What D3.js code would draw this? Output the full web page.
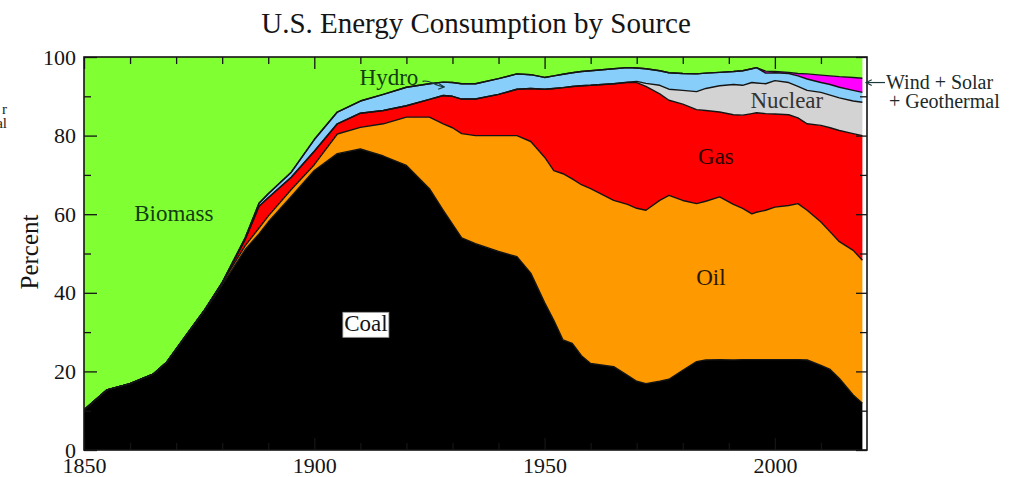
<!DOCTYPE html>
<html>
<head>
<meta charset="utf-8">
<script src="https://cdn.jsdelivr.net/npm/d3@7"></script>
<style>
  html, body { margin: 0; padding: 0; background: #fff; }
  svg { display: block; }
  text { font-family: "Liberation Serif", "Times New Roman", serif; }
</style>
</head>
<body>
<svg id="chart" width="1019" height="477"></svg>
<script>
// shares of total consumption, percent
const years     = [1850, 1855, 1860, 1865, 1868, 1872, 1876, 1880, 1885, 1888, 1890, 1895, 1900, 1905, 1910, 1915, 1920, 1925, 1928, 1930, 1932, 1935, 1940, 1944, 1947, 1950, 1952, 1954, 1956, 1958, 1960, 1965, 1968, 1970, 1972, 1975, 1977, 1980, 1983, 1985, 1988, 1991, 1993, 1995, 1996, 1998, 2000, 2003, 2005, 2007, 2010, 2012, 2014, 2017, 2019];
const coal      = [10.2, 15.3, 16.9, 19.3, 22.4, 28.8, 35.0, 42.0, 51.0, 55.0, 58.0, 64.5, 71.1, 75.4, 76.6, 74.8, 72.4, 66.5, 61.0, 57.5, 54.0, 52.5, 50.5, 49.2, 45.0, 37.5, 33.0, 28.0, 27.1, 24.0, 22.0, 21.2, 19.0, 17.5, 16.9, 17.5, 18.0, 20.3, 22.5, 22.9, 23.0, 22.9, 23.0, 23.0, 23.0, 23.0, 23.0, 23.0, 23.0, 22.9, 21.5, 20.5, 18.2, 14.0, 11.9];
const oil       = [0, 0, 0, 0, 0, 0.1, 0.3, 0.5, 1.0, 1.5, 1.5, 1.8, 1.5, 5.0, 5.5, 8.2, 12.3, 18.2, 22.0, 24.5, 26.5, 27.5, 29.5, 30.8, 33.5, 37.0, 38.1, 42.3, 41.9, 43.5, 44.5, 42.3, 43.5, 44.0, 44.1, 46.0, 46.8, 43.2, 40.2, 40.4, 41.4, 39.6, 38.5, 37.1, 37.5, 38.0, 38.8, 39.2, 39.7, 38.1, 36.5, 35.0, 34.8, 36.8, 36.4];
const gas       = [0, 0, 0, 0, 0, 0, 0, 0, 1.6, 5.5, 4.7, 3.1, 3.4, 2.6, 3.6, 3.4, 2.9, 4.5, 7.2, 8.0, 8.8, 9.3, 10.5, 11.8, 13.5, 17.3, 20.9, 21.9, 23.5, 25.2, 26.3, 29.7, 31.0, 32.0, 31.5, 27.1, 24.2, 24.5, 23.9, 23.1, 21.6, 22.8, 23.7, 25.5, 25.3, 24.6, 23.7, 23.1, 21.8, 22.0, 24.6, 26.5, 28.3, 29.7, 31.7];
const nuclear   = [0, 0, 0, 0, 0, 0, 0, 0, 0, 0, 0, 0, 0, 0, 0, 0, 0, 0, 0, 0, 0, 0, 0, 0, 0, 0, 0, 0, 0, 0, 0, 0, 0.1, 0.3, 0.8, 2.2, 2.8, 3.5, 4.6, 5.6, 6.7, 7.7, 7.6, 7.9, 7.6, 7.6, 8.5, 8.2, 8.0, 8.5, 8.4, 8.3, 8.3, 8.3, 8.5];
const hydro     = [0, 0, 0, 0, 0, 0, 0, 0.1, 0.4, 0.8, 1.0, 1.3, 3.0, 3.0, 3.1, 4.1, 4.7, 4.0, 3.4, 3.5, 3.9, 3.9, 4.0, 3.9, 3.5, 3.0, 3.2, 3.4, 3.5, 3.6, 3.7, 3.8, 3.7, 3.4, 3.7, 3.7, 4.2, 4.3, 4.5, 3.9, 3.4, 3.3, 3.7, 3.5, 3.9, 2.7, 2.0, 2.3, 2.7, 2.9, 2.5, 2.7, 2.7, 2.7, 2.5];
const windSolar = [0, 0, 0, 0, 0, 0, 0, 0, 0, 0, 0, 0, 0, 0, 0, 0, 0, 0, 0, 0, 0, 0, 0, 0, 0, 0, 0, 0, 0, 0, 0, 0, 0, 0, 0, 0, 0, 0, 0, 0, 0, 0, 0, 0, 0, 0.5, 0.3, 0.3, 0.6, 1.3, 1.9, 2.2, 2.7, 3.3, 3.6];
const biomass   = [89.8, 84.7, 83.1, 80.7, 77.6, 71.1, 64.7, 57.4, 46.0, 37.2, 34.8, 29.3, 21.0, 14.0, 11.2, 9.5, 7.7, 6.8, 6.4, 6.5, 6.8, 6.8, 5.5, 4.3, 4.5, 5.2, 4.8, 4.4, 4.0, 3.7, 3.5, 3.0, 2.7, 2.8, 3.0, 3.5, 4.0, 4.2, 4.3, 4.1, 3.9, 3.7, 3.5, 3.0, 2.7, 3.6, 3.7, 3.9, 4.2, 4.3, 4.6, 4.8, 5.0, 5.2, 5.4];

const keys = ["coal", "oil", "gas", "nuclear", "hydro", "windSolar", "biomass"];
const colors = {
  coal: "#000000",
  oil: "#ff9900",
  gas: "#ff0000",
  nuclear: "#d3d3d3",
  hydro: "#87cefa",
  windSolar: "#ff00ff",
  biomass: "#80ff33"
};
const yMajor = [0, 20, 40, 60, 80, 100];
const yMinor = [10, 30, 50, 70, 90];
const xMajor = [1850, 1900, 1950, 2000];
const xMinor = [1860, 1870, 1880, 1890, 1910, 1920, 1930, 1940, 1960, 1970, 1980, 1990, 2010];

const serif = "Liberation Serif, Times New Roman, serif";
const svg = d3.select("#chart");

const x = d3.scaleLinear().domain([1850, 2020]).range([84, 867]);
const y = d3.scaleLinear().domain([0, 100]).range([450, 57]);

const table = years.map((yr, i) => ({
  year: yr,
  coal: coal[i],
  oil: oil[i],
  gas: gas[i],
  nuclear: nuclear[i],
  hydro: hydro[i],
  windSolar: windSolar[i],
  biomass: biomass[i]
}));

const layers = d3.stack().keys(keys)(table);

const area = d3.area()
  .x(d => x(d.data.year))
  .y0(d => y(d[0]))
  .y1(d => y(d[1]));

const edge = d3.line()
  .x(d => x(d.data.year))
  .y(d => y(d[1]));

svg.append("defs").append("clipPath")
  .attr("id", "plotClip")
  .append("rect")
  .attr("x", x(1850)).attr("y", y(100))
  .attr("width", x(2020) - x(1850)).attr("height", y(0) - y(100));

const plot = svg.append("g").attr("clip-path", "url(#plotClip)");

plot.selectAll("path.layer")
  .data(layers)
  .join("path")
  .attr("class", "layer")
  .attr("fill", d => colors[d.key])
  .attr("d", area);

plot.selectAll("path.edge")
  .data(layers.filter(l => l.key !== "biomass"))
  .join("path")
  .attr("class", "edge")
  .attr("fill", "none")
  .attr("stroke", "#141414")
  .attr("stroke-width", 1.4)
  .attr("stroke-linejoin", "round")
  .attr("d", edge);

// axes: ticks all point inwards
function styleAxis(g) {
  g.select(".domain").remove();
  g.attr("font-family", serif).attr("font-size", 22).attr("color", "#141414");
  g.selectAll("line").attr("stroke-width", 1.3);
}

svg.append("g")
  .attr("transform", `translate(${x(1850)},0)`)
  .call(d3.axisLeft(y).tickValues(yMajor).tickSizeInner(-13).tickSizeOuter(0).tickPadding(8))
  .call(styleAxis);
svg.append("g")
  .attr("transform", `translate(${x(1850)},0)`)
  .call(d3.axisLeft(y).tickValues(yMinor).tickSizeInner(-7).tickSizeOuter(0).tickFormat(""))
  .call(styleAxis);

svg.append("g")
  .attr("transform", `translate(${x(2020)},0)`)
  .call(d3.axisRight(y).tickValues(yMajor).tickSizeInner(-11).tickSizeOuter(0).tickFormat(""))
  .call(styleAxis);
svg.append("g")
  .attr("transform", `translate(${x(2020)},0)`)
  .call(d3.axisRight(y).tickValues(yMinor).tickSizeInner(-7).tickSizeOuter(0).tickFormat(""))
  .call(styleAxis);

svg.append("g")
  .attr("transform", `translate(0,${y(0)})`)
  .call(d3.axisBottom(x).tickValues(xMajor).tickSizeInner(-12).tickSizeOuter(0).tickPadding(7).tickFormat(d3.format("d")))
  .call(styleAxis);
svg.append("g")
  .attr("transform", `translate(0,${y(0)})`)
  .call(d3.axisBottom(x).tickValues(xMinor).tickSizeInner(-7).tickSizeOuter(0).tickFormat(""))
  .call(styleAxis);

svg.append("g")
  .attr("transform", `translate(0,${y(100)})`)
  .call(d3.axisTop(x).tickValues(xMajor).tickSizeInner(-12).tickSizeOuter(0).tickFormat(""))
  .call(styleAxis);
svg.append("g")
  .attr("transform", `translate(0,${y(100)})`)
  .call(d3.axisTop(x).tickValues(xMinor).tickSizeInner(-7).tickSizeOuter(0).tickFormat(""))
  .call(styleAxis);

// frame
svg.append("rect")
  .attr("x", x(1850)).attr("y", y(100))
  .attr("width", x(2020) - x(1850)).attr("height", y(0) - y(100))
  .attr("fill", "none")
  .attr("stroke", "#141414")
  .attr("stroke-width", 1.6);

// title + axis title
svg.append("text")
  .attr("x", 476).attr("y", 33)
  .attr("text-anchor", "middle")
  .attr("font-size", 29)
  .attr("fill", "#141414")
  .text("U.S. Energy Consumption by Source");

svg.append("text")
  .attr("transform", "translate(38,252) rotate(-90)")
  .attr("text-anchor", "middle")
  .attr("font-size", 25)
  .attr("fill", "#141414")
  .text("Percent");

// leftovers of the neighbouring figure, cut at the edge
svg.append("text").attr("x", 7).attr("y", 114).attr("text-anchor", "end")
  .attr("font-size", 15).attr("fill", "#222").text("r");
svg.append("text").attr("x", 7).attr("y", 128).attr("text-anchor", "end")
  .attr("font-size", 15).attr("fill", "#222").text("al");

// in-plot labels
const labels = [
  { text: "Biomass", year: 1869.5, value: 58.2, color: "#123d12" },
  { text: "Hydro",   year: 1916.2, value: 93.0, color: "#123d12" },
  { text: "Gas",     year: 1987.2, value: 72.7, color: "#2a0000" },
  { text: "Oil",     year: 1986.1, value: 41.9, color: "#2a1800" },
  { text: "Nuclear", year: 2002.6, value: 87.1, color: "#333333" }
];

svg.selectAll("text.lbl")
  .data(labels)
  .join("text")
  .attr("class", "lbl")
  .attr("x", d => x(d.year))
  .attr("y", d => y(d.value))
  .attr("text-anchor", "middle")
  .attr("font-size", 23)
  .attr("fill", d => d.color)
  .text(d => d.text);

// coal label sits in a white box
const coalLbl = svg.append("g").attr("transform", `translate(${x(1911.2)},${y(30.2)})`);
coalLbl.append("rect")
  .attr("x", -23).attr("y", -19).attr("width", 46).attr("height", 25)
  .attr("fill", "#fff").attr("stroke", "#999").attr("stroke-width", 0.8);
coalLbl.append("text")
  .attr("text-anchor", "middle")
  .attr("font-size", 23)
  .attr("fill", "#141414")
  .text("Coal");

// arrows
const defs = svg.select("defs");
defs.append("marker")
  .attr("id", "arrow")
  .attr("viewBox", "0 0 10 10")
  .attr("refX", 9).attr("refY", 5)
  .attr("markerWidth", 6).attr("markerHeight", 6)
  .attr("orient", "auto")
  .append("path")
  .attr("d", "M1,1 L9,5 L1,9")
  .attr("fill", "none")
  .attr("stroke", "#1a3a3a")
  .attr("stroke-width", 1.6);

svg.append("path")
  .attr("d", `M${x(1923.5)},${y(93.8)} C${x(1925)},${y(94.4)} ${x(1926)},${y(92.6)} ${x(1928.2)},${y(92.4)}`)
  .attr("fill", "none")
  .attr("stroke", "#1a3a3a")
  .attr("stroke-width", 1.2)
  .attr("marker-end", "url(#arrow)");

svg.append("path")
  .attr("d", `M885,${y(93.5)} L866,${y(93.5)}`)
  .attr("fill", "none")
  .attr("stroke", "#1a3a3a")
  .attr("stroke-width", 1.2)
  .attr("marker-end", "url(#arrow)");

svg.append("text")
  .attr("x", 886).attr("y", 89)
  .attr("font-size", 20)
  .attr("fill", "#1a2a2a")
  .text("Wind + Solar");
svg.append("text")
  .attr("x", 889).attr("y", 108)
  .attr("font-size", 20)
  .attr("fill", "#1a2a2a")
  .text("+ Geothermal");
</script>
</body>
</html>
